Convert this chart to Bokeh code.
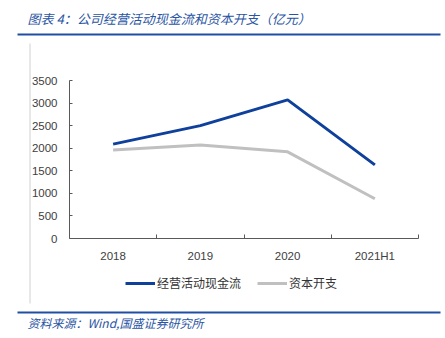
from bokeh.plotting import figure
from bokeh.models import Range1d, FixedTicker, Label, Legend, LegendItem
from bokeh.embed import file_html
from bokeh.resources import INLINE

categories = ["2018", "2019", "2020", "2021H1"]
operating_cf = [2090, 2500, 3070, 1630]
capex = [1960, 2070, 1920, 880]
y_ticks = [0, 500, 1000, 1500, 2000, 2500, 3000, 3500]
series_names = ["经营活动现金流", "资本开支"]
title_text = "图表 4：公司经营活动现金流和资本开支（亿元）"
source_text = "资料来源：Wind,国盛证券研究所"

BLUE = "#0e409c"
GREY = "#c0c0c0"
RULE = "#1f4ea3"
HEAD = "#2a55a3"
TXT = "#404040"
AX = "#595959"

W, H = 445, 338
# chart area in page pixels
PL, PR, PT, PB = 69, 418, 80, 238
n = len(categories)
ymax = y_ticks[-1]
ux = n / (PR - PL)            # data units per pixel (x)
uy = ymax / (PB - PT)         # data units per pixel (y)

p = figure(width=W, height=H, output_backend="svg", toolbar_location=None,
           x_range=Range1d(-PL * ux, n + (W - PR) * ux),
           y_range=Range1d(-(H - PB) * uy, ymax + PT * uy),
           min_border=0)
p.outline_line_color = None
p.grid.visible = False
p.background_fill_color = "white"
p.border_fill_color = "white"
p.extra_x_ranges = {"px": Range1d(0, W)}
p.extra_y_ranges = {"py": Range1d(H, 0)}

xs = [i + 0.5 for i in range(n)]

ya = p.yaxis[0]
ya.fixed_location = 0
ya.bounds = (0, ymax)
ya.ticker = FixedTicker(ticks=y_ticks, minor_ticks=[])
ya.major_tick_in = 3
ya.major_tick_out = 0
ya.minor_tick_line_color = None
ya.axis_line_color = AX
ya.major_tick_line_color = AX
ya.major_label_text_font = "Liberation Sans"
ya.major_label_text_font_size = "11.5px"
ya.major_label_text_color = TXT
ya.major_label_standoff = 12

xa = p.xaxis[0]
xa.fixed_location = 0
xa.bounds = (0, n)
xa.ticker = FixedTicker(ticks=xs, minor_ticks=[float(i) for i in range(1, n + 1)])
xa.major_label_overrides = {x: c for x, c in zip(xs, categories)}
xa.major_tick_line_color = None
xa.minor_tick_in = 4
xa.minor_tick_out = 0
xa.minor_tick_line_color = AX
xa.axis_line_color = AX
xa.major_label_text_font = "Liberation Sans"
xa.major_label_text_font_size = "11.5px"
xa.major_label_text_color = TXT
xa.major_label_standoff = 5

r1 = p.line(xs, operating_cf, line_color=BLUE, line_width=3)
r2 = p.line(xs, capex, line_color=GREY, line_width=3)

legend = Legend(items=[LegendItem(label=series_names[0], renderers=[r1]),
                       LegendItem(label=series_names[1], renderers=[r2])],
                orientation="horizontal", location=(125, 47),
                padding=0, margin=0, spacing=16, glyph_width=30, glyph_height=14,
                label_standoff=2, label_text_font="Noto Sans CJK SC",
                label_text_font_size="12px", label_text_color="#333333",
                border_line_color=None, background_fill_alpha=0)
p.add_layout(legend, "center")

# page decorations, in page-pixel coordinates
p.segment(x0=[17, 17], y0=[34, 312], x1=[440, 440], y1=[34, 312],
          line_color=RULE, line_width=2, x_range_name="px", y_range_name="py")
p.segment(x0=[29.5], y0=[43], x1=[29.5], y1=[303],
          line_color="#d0d0d0", line_width=1, x_range_name="px", y_range_name="py")
p.add_layout(Label(x=27, y=18, x_range_name="px", y_range_name="py",
                   text=title_text, text_font="Noto Sans CJK SC",
                   text_font_style="italic", text_font_size="13px",
                   text_color=HEAD, text_baseline="middle"))
p.add_layout(Label(x=27, y=322, x_range_name="px", y_range_name="py",
                   text=source_text, text_font="Noto Sans CJK SC",
                   text_font_style="italic", text_font_size="12px",
                   text_color=HEAD, text_baseline="middle"))

open("out.html", "w").write(file_html(p, INLINE))
